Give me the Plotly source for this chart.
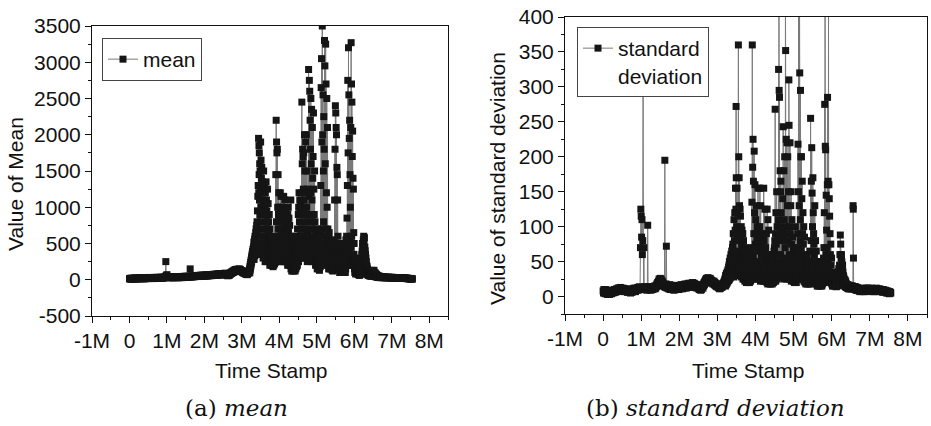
import plotly.graph_objects as go

# ---------------- data ----------------
# The series is sampled more finely where it is dense (3.2M - 6.7M).
LOW_START, LOW_STEP = 0, 10000          # 0 .. 3.19M
DENSE_START, DENSE_STEP = 3200000, 5000  # 3.2M .. 6.695M
TAIL_START, TAIL_STEP = 6700000, 10000   # 6.7M .. 7.55M

# ---- mean ----
mean_low = [
    15, 10, 20, 12, 18, 8, 22, 14, 10, 16,            # 0.0M
    12, 20, 15, 25, 10, 18, 14, 22, 16, 12,
    20, 15, 25, 18, 12, 22, 16, 28, 14, 20,
    18, 25, 14, 22, 30, 16, 20, 26, 12, 24,
    22, 16, 28, 20, 14, 30, 18, 24, 20, 26,
    20, 28, 16, 24, 32, 18, 22, 30, 20, 25,
    24, 18, 30, 22, 28, 16, 26, 32, 20, 24,
    28, 20, 34, 24, 18, 30, 26, 22, 32, 25,
    26, 34, 22, 30, 28, 20, 36, 24, 30, 28,
    30, 24, 38, 28, 34, 40, 30, 250, 60, 35,
    70, 45, 38, 30, 42, 36, 28, 40, 34, 30,           # 1.0M
    36, 28, 42, 32, 38, 26, 40, 34, 30, 38,
    32, 40, 28, 36, 44, 30, 38, 34, 28, 40,
    36, 30, 44, 34, 28, 40, 36, 32, 42, 30,
    38, 32, 46, 36, 30, 42, 38, 34, 48, 36,
    40, 34, 48, 38, 44, 36, 42, 50, 38, 46,
    44, 38, 150, 48, 40, 52, 44, 38, 50, 46,
    46, 52, 40, 56, 48, 44, 58, 50, 46, 54,
    50, 56, 44, 60, 52, 48, 58, 54, 50, 62,
    54, 60, 48, 58, 64, 52, 56, 62, 50, 58,
    56, 62, 50, 66, 58, 54, 64, 60, 52, 68,           # 2.0M
    60, 66, 54, 70, 62, 58, 72, 64, 56, 68,
    64, 70, 58, 74, 66, 60, 76, 68, 62, 72,
    68, 74, 62, 80, 70, 64, 78, 72, 66, 82,
    72, 78, 66, 84, 74, 68, 86, 76, 70, 80,
    76, 82, 70, 88, 78, 72, 90, 80, 74, 84,
    60, 70, 55, 80, 65, 72, 58, 85, 90, 75,
    90, 100, 85, 110, 95, 105, 120, 100, 115, 130,
    110, 125, 140, 120, 135, 115, 145, 130, 125, 140,
    130, 145, 120, 150, 135, 125, 140, 130, 115, 120,
    110, 125, 100, 115, 95, 105, 90, 100, 85, 95,     # 3.0M
    80, 90, 75, 85, 70, 80, 90, 100, 95, 120,
]
mean_dense = [
    110, 150, 95, 180, 130, 210, 160, 240, 190, 270, 220, 300, 250, 330, 280, 360, 310, 390, 340, 420,              # 3.2M
    380, 300, 450, 350, 520, 280, 480, 400, 560, 330, 600, 450, 520, 380, 650, 420, 700, 500, 620, 750,
    450, 800, 350, 950, 600, 1150, 400, 1300, 700, 1950, 1200, 1850, 1450, 1750, 1100, 1600, 900, 1500, 600, 1250,
    1900, 500, 1650, 1000, 1400, 350, 1550, 800, 1100, 400, 1350, 700, 1000, 300, 1200, 600, 1500, 450, 900, 1050,
    350, 1300, 600, 1000, 250, 1200, 500, 900, 300, 1350, 700, 1100, 400, 950, 250, 800, 550, 1250, 350, 700,
    1050, 300, 800, 450, 650, 250, 900, 350, 600, 200, 700, 400, 550, 250, 500, 300, 450, 200, 600, 350,
    250, 480, 200, 400, 300, 520, 180, 450, 250, 380, 200, 500, 300, 420, 220, 350, 280, 460, 240, 400,
    500, 1450, 300, 2200, 800, 1900, 400, 1750, 600, 1800, 350, 1000, 700, 1450, 300, 900, 550, 1200, 400, 800,
    300, 1000, 450, 800, 250, 1200, 600, 900, 350, 1150, 500, 700, 300, 1000, 650, 850, 250, 600, 400, 950,        # 4.0M
    350, 800, 250, 1150, 500, 900, 300, 700, 600, 1100, 400, 850, 250, 650, 500, 950, 300, 750, 450, 600,
    250, 700, 400, 900, 200, 800, 500, 1000, 300, 650, 450, 850, 200, 550, 350, 750, 250, 600, 300, 500,
    200, 1100, 150, 450, 300, 600, 120, 500, 250, 400, 150, 550, 200, 350, 120, 450, 250, 300, 150, 400,
    150, 350, 200, 450, 120, 300, 250, 400, 150, 500, 200, 350, 180, 600, 250, 450, 200, 700, 300, 550,
    400, 900, 250, 1000, 500, 1200, 300, 800, 600, 1100, 350, 950, 450, 1050, 300, 700, 550, 1000, 400, 1200,
    2450, 600, 1600, 350, 1800, 900, 1700, 300, 1250, 700, 1750, 450, 1100, 600, 2000, 350, 1500, 800, 1000, 500,
    1900, 400, 1200, 700, 2000, 300, 1000, 550, 1500, 250, 900, 650, 1250, 400, 800, 350, 2900, 600, 1150, 300,
    2750, 500, 2600, 900, 2200, 300, 1800, 1200, 2500, 450, 1600, 700, 2350, 250, 1100, 800, 2100, 400, 1400, 600,
    1700, 350, 2300, 600, 1250, 250, 900, 500, 1500, 300, 800, 450, 700, 200, 600, 350, 500, 250, 650, 300,
    200, 550, 150, 450, 300, 700, 180, 400, 250, 600, 150, 500, 200, 350, 130, 450, 250, 650, 180, 400,            # 5.0M
    300, 1300, 200, 2650, 600, 3050, 400, 1900, 700, 3500, 250, 2000, 500, 2550, 350, 1500, 800, 2250, 300, 1800,
    600, 3300, 250, 2950, 500, 1600, 350, 3250, 700, 2700, 200, 1200, 450, 2500, 300, 1000, 550, 2100, 250, 700,
    400, 200, 600, 150, 500, 300, 650, 180, 450, 250, 550, 150, 400, 300, 500, 200, 350, 150, 450, 250,
    200, 400, 130, 500, 250, 350, 120, 450, 200, 300, 150, 550, 250, 400, 180, 1100, 300, 1800, 200, 2400,
    500, 2300, 250, 2100, 400, 2000, 150, 1550, 350, 1450, 200, 1100, 300, 600, 150, 450, 250, 500, 180, 400,
    150, 450, 100, 350, 200, 500, 120, 400, 180, 300, 100, 450, 150, 350, 120, 400, 200, 300, 100, 350,
    120, 350, 100, 450, 200, 300, 150, 500, 120, 400, 180, 350, 100, 450, 150, 550, 200, 400, 250, 600,
    300, 850, 200, 1300, 450, 2750, 250, 1750, 500, 3200, 350, 2550, 200, 1950, 400, 2200, 300, 1450, 550, 1000,
    300, 2100, 450, 3270, 200, 2700, 600, 2450, 350, 1700, 250, 2050, 500, 1400, 300, 1250, 200, 650, 350, 500,
    250, 150, 300, 100, 200, 120, 250, 80, 180, 130, 220, 90, 170, 110, 200, 80, 150, 120, 180, 90,               # 6.0M
    150, 80, 200, 70, 120, 90, 180, 60, 140, 100, 160, 70, 130, 90, 200, 80, 250, 120, 300, 150,
    350, 120, 400, 200, 500, 150, 450, 250, 550, 180, 600, 300, 500, 200, 580, 250, 450, 150, 400, 200,
    350, 150, 300, 120, 250, 100, 200, 90, 180, 80, 150, 70, 130, 90, 120, 60, 110, 80, 100, 60,
    90, 60, 110, 50, 80, 70, 120, 55, 90, 65, 100, 50, 85, 60, 130, 55, 95, 70, 80, 50,
    75, 110, 55, 90, 65, 130, 50, 100, 60, 85, 45, 95, 55, 75, 40, 80, 50, 65, 45, 70,
    55, 40, 60, 35, 50, 45, 55, 35, 45, 40, 50, 30, 45, 38, 42, 32, 48, 35, 40, 30,
]
mean_tail = [
    40, 30, 45, 35, 28, 40, 32, 38, 30, 36,           # 6.7M
    34, 28, 38, 30, 26, 36, 30, 34, 28, 32,
    30, 36, 26, 32, 28, 34, 24, 30, 28, 32,
    28, 34, 24, 30, 26, 32, 22, 28, 26, 30,           # 7.0M
    26, 30, 22, 28, 24, 30, 20, 26, 24, 28,
    24, 28, 20, 26, 22, 26, 18, 24, 20, 26,
    22, 26, 18, 24, 20, 22, 16, 20, 18, 22,
    18, 22, 14, 20, 16, 18, 12, 16, 14, 18,
    14, 10, 16, 12, 10, 12,
]

# ---- standard deviation ----
std_low = [
    8, 5, 10, 6, 9, 4, 7, 10, 5, 8,                   # 0.0M
    6, 3, 7, 4, 8, 5, 6, 3, 7, 5,
    5, 8, 4, 7, 6, 9, 5, 8, 6, 10,
    7, 10, 6, 9, 8, 11, 7, 10, 8, 12,
    9, 12, 8, 11, 10, 13, 9, 12, 10, 11,
    10, 8, 12, 9, 11, 7, 10, 8, 11, 9,
    8, 10, 7, 9, 6, 10, 8, 11, 7, 9,
    6, 9, 5, 8, 7, 10, 6, 9, 8, 11,
    9, 12, 8, 11, 10, 7, 12, 9, 11, 10,
    10, 13, 9, 12, 11, 14, 10, 12, 70, 125,
    115, 85, 110, 60, 80, 340, 12, 70, 10, 14,        # 1.0M
    11, 14, 10, 13, 12, 9, 13, 102, 14, 12,
    12, 10, 13, 11, 14, 9, 12, 10, 13, 11,
    10, 13, 11, 14, 12, 15, 11, 13, 12, 16,
    14, 18, 15, 20, 17, 22, 19, 25, 21, 24,
    26, 22, 25, 20, 23, 18, 21, 16, 19, 15,
    17, 14, 195, 16, 13, 18, 72, 16, 12, 15,
    13, 16, 11, 15, 12, 17, 10, 14, 12, 16,
    11, 14, 10, 15, 12, 13, 9, 14, 11, 15,
    12, 15, 10, 14, 11, 16, 12, 13, 10, 14,
    13, 16, 11, 15, 12, 17, 13, 14, 11, 16,           # 2.0M
    14, 17, 12, 16, 13, 18, 14, 15, 12, 17,
    15, 18, 13, 17, 14, 19, 15, 16, 13, 18,
    16, 19, 14, 18, 15, 20, 16, 17, 14, 19,
    15, 18, 13, 17, 14, 16, 12, 15, 13, 17,
    12, 15, 10, 14, 11, 13, 9, 12, 10, 14,
    13, 16, 12, 18, 15, 20, 17, 22, 19, 24,
    22, 26, 21, 25, 23, 27, 22, 26, 24, 25,
    23, 26, 21, 24, 20, 23, 19, 22, 18, 21,
    19, 22, 17, 20, 16, 19, 15, 18, 14, 17,
    15, 18, 13, 16, 12, 15, 11, 14, 12, 16,           # 3.0M
    14, 17, 13, 16, 15, 19, 17, 21, 20, 24,
]
std_dense = [
    18, 26, 15, 30, 20, 28, 17, 33, 22, 30, 19, 35, 24, 32, 21, 38, 26, 35, 23, 42,      # 3.2M
    28, 45, 24, 50, 32, 42, 26, 55, 35, 48, 28, 60, 38, 52, 30, 65, 40, 58, 33, 70,
    35, 75, 30, 90, 45, 65, 28, 110, 50, 80, 35, 120, 55, 95, 40, 155, 60, 125, 272, 170,
    45, 100, 35, 155, 60, 120, 30, 90, 50, 80, 360, 40, 200, 65, 170, 35, 130, 55, 95, 125,
    40, 115, 30, 85, 55, 100, 28, 75, 45, 95, 30, 70, 50, 90, 25, 65, 40, 80, 30, 60,
    25, 55, 30, 70, 22, 50, 35, 65, 25, 45, 30, 60, 20, 50, 28, 40, 22, 55, 30, 45,
    20, 45, 25, 40, 22, 55, 28, 35, 20, 50, 25, 45, 30, 60, 22, 40, 28, 70, 25, 50,
    35, 135, 30, 360, 45, 185, 30, 225, 60, 165, 35, 90, 50, 208, 28, 120, 45, 160, 30, 75,
    30, 110, 25, 90, 45, 130, 30, 80, 50, 100, 25, 70, 40, 155, 30, 85, 45, 65, 28, 95,  # 4.0M
    25, 100, 30, 155, 40, 75, 22, 130, 35, 90, 25, 60, 45, 85, 28, 70, 35, 55, 25, 80,
    22, 65, 30, 155, 25, 80, 35, 60, 22, 125, 30, 50, 40, 70, 25, 55, 30, 90, 22, 45,
    20, 125, 25, 60, 18, 110, 28, 50, 22, 95, 25, 45, 20, 55, 28, 40, 18, 50, 25, 35,
    18, 45, 22, 55, 20, 40, 25, 50, 18, 60, 22, 45, 25, 55, 20, 50, 28, 65, 22, 70,
    25, 80, 30, 268, 35, 90, 22, 120, 40, 75, 28, 150, 35, 100, 25, 60, 45, 85, 30, 110,
    30, 325, 40, 420, 295, 50, 285, 35, 100, 180, 30, 150, 60, 165, 28, 120, 45, 90, 35, 80,
    28, 95, 40, 140, 30, 243, 50, 85, 35, 180, 25, 110, 45, 200, 30, 70, 55, 420, 352, 100,
    30, 225, 40, 90, 25, 220, 45, 130, 30, 200, 50, 80, 28, 150, 40, 310, 245, 60, 35, 100,
    25, 220, 35, 90, 28, 130, 40, 150, 22, 75, 35, 110, 25, 60, 40, 85, 28, 50, 35, 70,
    22, 55, 30, 45, 20, 65, 28, 40, 25, 100, 22, 50, 30, 60, 20, 45, 28, 70, 25, 55,     # 5.0M
    30, 90, 40, 218, 25, 150, 420, 60, 35, 130, 45, 420, 320, 80, 28, 110, 295, 50, 200, 70,
    35, 200, 30, 140, 45, 165, 25, 90, 40, 120, 28, 75, 35, 100, 22, 60, 30, 85, 25, 50,
    20, 45, 25, 55, 18, 40, 22, 50, 20, 35, 25, 60, 18, 45, 22, 40, 20, 50, 25, 35,
    18, 50, 22, 40, 20, 65, 25, 45, 18, 255, 30, 80, 22, 165, 35, 213, 28, 148, 40, 100,
    25, 170, 30, 120, 22, 90, 35, 75, 25, 60, 30, 130, 22, 50, 28, 80, 20, 45, 25, 65,
    18, 45, 22, 35, 15, 50, 20, 40, 18, 30, 22, 45, 15, 38, 20, 42, 18, 30, 22, 35,
    15, 35, 20, 45, 18, 30, 22, 40, 15, 50, 20, 35, 18, 45, 22, 38, 20, 55, 25, 70,
    20, 120, 25, 275, 30, 420, 215, 40, 210, 60, 25, 145, 35, 95, 22, 70, 30, 160, 285, 50,
    25, 165, 30, 420, 40, 160, 22, 140, 35, 115, 25, 90, 30, 60, 20, 75, 28, 45, 22, 55,
    18, 35, 22, 28, 15, 32, 20, 25, 16, 30, 18, 26, 15, 28, 20, 24, 16, 30, 18, 22,      # 6.0M
    15, 25, 18, 22, 14, 28, 16, 20, 15, 30, 18, 25, 16, 35, 20, 28, 18, 40, 22, 35,
    20, 45, 25, 60, 22, 88, 30, 75, 25, 55, 35, 60, 28, 50, 22, 40, 25, 45, 20, 35,
    18, 30, 20, 28, 16, 25, 18, 22, 15, 24, 16, 20, 14, 22, 15, 19, 13, 18, 14, 17,
    13, 16, 12, 15, 14, 17, 12, 15, 11, 14, 13, 16, 12, 15, 11, 14, 13, 15, 12, 14,
    12, 15, 11, 14, 13, 15, 12, 14, 11, 15, 12, 14, 130, 125, 55, 14, 12, 13, 11, 14,
    11, 13, 10, 12, 11, 14, 10, 12, 9, 13, 10, 12, 11, 13, 9, 12, 10, 11, 9, 12,
]
std_tail = [
    9, 11, 8, 10, 7, 11, 9, 10, 8, 10,                # 6.7M
    8, 11, 7, 10, 9, 12, 8, 10, 7, 11,
    9, 12, 8, 11, 10, 9, 12, 8, 10, 11,
    10, 8, 11, 9, 12, 8, 10, 7, 11, 9,                # 7.0M
    8, 10, 7, 11, 9, 10, 8, 12, 9, 10,
    9, 11, 8, 10, 7, 9, 11, 8, 10, 9,
    8, 10, 7, 9, 6, 10, 8, 9, 7, 8,
    7, 9, 6, 8, 5, 7, 6, 8, 5, 7,
    6, 4, 7, 5, 6, 5,
]

x_tick_vals = [-1e6, 0, 1e6, 2e6, 3e6, 4e6, 5e6, 6e6, 7e6, 8e6]
x_tick_text = ["-1M", "0", "1M", "2M", "3M", "4M", "5M", "6M", "7M", "8M"]
mean_tick_vals = [-500, 0, 500, 1000, 1500, 2000, 2500, 3000, 3500]
std_tick_vals = [0, 50, 100, 150, 200, 250, 300, 350, 400]


def stamps(n, start, step):
    return [start + i * step for i in range(n)]


def series(low, dense, tail):
    t = (stamps(len(low), LOW_START, LOW_STEP)
         + stamps(len(dense), DENSE_START, DENSE_STEP)
         + stamps(len(tail), TAIL_START, TAIL_STEP))
    return t, low + dense + tail


mean_times, mean_values = series(mean_low, mean_dense, mean_tail)
std_times, std_values = series(std_low, std_dense, std_tail)

# ---------------- style ----------------
W, H = 931, 426
INK = "#111111"
SANS = "Liberation Sans, Arial, sans-serif"
SERIF = "DejaVu Serif, serif"
FS = 21


def px_x(a, b):
    return [a / W, b / W]


def px_y(top, bottom):
    return [1 - bottom / H, 1 - top / H]


fig = go.Figure()

line_style = dict(color="#7a7a7a", width=1, simplify=False)
marker_style = dict(symbol="square", size=7, color="#151515", line=dict(width=0))

fig.add_trace(go.Scatter(
    x=mean_times, y=mean_values, mode="lines+markers", name="mean",
    line=line_style, marker=marker_style, xaxis="x", yaxis="y",
    legend="legend", cliponaxis=True,
))
fig.add_trace(go.Scatter(
    x=std_times, y=std_values, mode="lines+markers", name="standard<br>deviation",
    line=line_style, marker=marker_style, xaxis="x2", yaxis="y2",
    legend="legend2", cliponaxis=True,
))

XR = [-1e6, 8.5e6]


def base_x(domain, anchor):
    return dict(
        domain=domain, anchor=anchor, range=XR, autorange=False, automargin=False,
        tickmode="array", tickvals=x_tick_vals, ticktext=x_tick_text,
        ticks="outside", ticklen=6, tickwidth=1, tickcolor=INK,
        showline=True, linecolor=INK, linewidth=1, mirror=True,
        showgrid=False, zeroline=False,
        tickfont=dict(family=SANS, size=FS, color=INK),
        minor=dict(tickmode="linear", tick0=-1e6, dtick=5e5, ticks="outside",
                   ticklen=3, tickcolor=INK, showgrid=False),
    )


def base_y(domain, anchor, rng, vals, minor_step):
    return dict(
        domain=domain, anchor=anchor, range=rng, autorange=False, automargin=False,
        tickmode="array", tickvals=vals, ticktext=[str(v) for v in vals],
        ticks="outside", ticklen=6, tickwidth=1, tickcolor=INK,
        showline=True, linecolor=INK, linewidth=1, mirror=True,
        showgrid=False, zeroline=False,
        tickfont=dict(family=SANS, size=FS, color=INK),
        minor=dict(tickmode="linear", tick0=0, dtick=minor_step, ticks="outside",
                   ticklen=3, tickcolor=INK, showgrid=False),
    )


def mirror_x(over, anchor):
    return dict(
        overlaying=over, anchor=anchor, side="top", range=XR, autorange=False,
        automargin=False,
        tickmode="array", tickvals=x_tick_vals, ticks="inside", ticklen=6,
        tickcolor=INK, showticklabels=False, showline=False, showgrid=False,
        zeroline=False,
        minor=dict(tickmode="linear", tick0=-1e6, dtick=5e5, ticks="inside",
                   ticklen=3, tickcolor=INK, showgrid=False),
    )


def mirror_y(over, anchor, rng, vals, minor_step):
    return dict(
        overlaying=over, anchor=anchor, side="right", range=rng, autorange=False,
        automargin=False,
        tickmode="array", tickvals=vals, ticks="inside", ticklen=6,
        tickcolor=INK, showticklabels=False, showline=False, showgrid=False,
        zeroline=False,
        minor=dict(tickmode="linear", tick0=0, dtick=minor_step, ticks="inside",
                   ticklen=3, tickcolor=INK, showgrid=False),
    )


left_x = px_x(92, 448)
left_y = px_y(26, 316)
right_x = px_x(565, 927)
right_y = px_y(17, 314)

legend_common = dict(xanchor="left", yanchor="top", bgcolor="white",
                     bordercolor="#444444", borderwidth=1,
                     font=dict(family=SANS, size=FS, color=INK),
                     itemwidth=30, tracegroupgap=0)

fig.update_layout(
    template="none",
    width=W, height=H, margin=dict(l=0, r=0, t=0, b=0, autoexpand=False),
    paper_bgcolor="white", plot_bgcolor="white",
    font=dict(family=SANS, size=FS, color=INK),
    xaxis=base_x(left_x, "y"),
    yaxis=base_y(left_y, "x", [-500, 3500], mean_tick_vals, 250),
    xaxis2=base_x(right_x, "y2"),
    yaxis2=base_y(right_y, "x2", [-25, 400], std_tick_vals, 25),
    xaxis3=mirror_x("x", "y"),
    yaxis3=mirror_y("y", "x", [-500, 3500], mean_tick_vals, 250),
    xaxis4=mirror_x("x2", "y2"),
    yaxis4=mirror_y("y2", "x2", [-25, 400], std_tick_vals, 25),
    legend=dict(x=102 / W, y=1 - 38 / H, **legend_common),
    legend2=dict(x=577 / W, y=1 - 27 / H, valign="top", **legend_common),
    showlegend=True,
)

ann_font = dict(family=SANS, size=FS, color=INK)
cap_font = dict(family=SERIF, size=23, color=INK)
annotations = [
    dict(text="Time Stamp", x=271 / W, y=1 - 370 / H, font=ann_font),
    dict(text="Time Stamp", x=748 / W, y=1 - 370 / H, font=ann_font),
    dict(text="Value of Mean", x=15 / W, y=1 - 184 / H, font=ann_font, textangle=-90),
    dict(text="Value of standard deviation", x=498 / W, y=1 - 179 / H, font=ann_font,
         textangle=-90),
    dict(text="(a) <i>mean</i>", x=236 / W, y=1 - 408 / H, font=cap_font),
    dict(text="(b) <i>standard deviation</i>", x=715 / W, y=1 - 408 / H, font=cap_font),
]
for a in annotations:
    a.update(xref="paper", yref="paper", xanchor="center", yanchor="middle",
             showarrow=False)
fig.update_layout(annotations=annotations)

fig.write_html("out.html")
